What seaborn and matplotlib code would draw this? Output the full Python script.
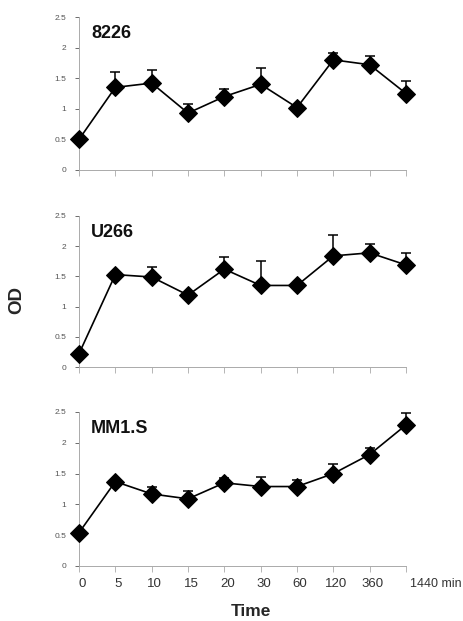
import numpy as np
import pandas as pd
import matplotlib
matplotlib.use("Agg")
import matplotlib.pyplot as plt
import seaborn as sns

# time points (categorical, evenly spaced on the axis)
times = ["0", "5", "10", "15", "20", "30", "60", "120", "360", "1440 min"]

cell_lines = ["8226", "U266", "MM1.S"]

# mean OD per time point
od_8226 = [0.50, 1.35, 1.42, 0.93, 1.20, 1.40, 1.02, 1.80, 1.72, 1.25]
od_u266 = [0.22, 1.53, 1.49, 1.19, 1.62, 1.35, 1.35, 1.84, 1.89, 1.69]
od_mm1s = [0.54, 1.37, 1.17, 1.09, 1.35, 1.29, 1.29, 1.50, 1.81, 2.29]

# upper error (SD) above the mean
err_8226 = [0.00, 0.25, 0.21, 0.15, 0.12, 0.27, 0.00, 0.11, 0.15, 0.20]
err_u266 = [0.00, 0.00, 0.16, 0.00, 0.20, 0.40, 0.00, 0.35, 0.14, 0.19]
err_mm1s = [0.00, 0.00, 0.12, 0.13, 0.08, 0.15, 0.10, 0.16, 0.11, 0.20]

sns.set_theme(style="white")
plt.rcParams["font.family"] = ["Liberation Sans", "DejaVu Sans"]

fig = plt.figure(figsize=(4.63, 6.21), dpi=100)

left = 79 / 463
width = (406 - 79) / 463
boxes = [(170, 17), (367, 216), (566, 412)]

series = [(od_8226, err_8226), (od_u266, err_u266), (od_mm1s, err_mm1s)]

for i, (name, (vals, errs)) in enumerate(zip(cell_lines, series)):
    bot_px, top_px = boxes[i]
    ax = fig.add_axes([left, 1 - bot_px / 621, width, (bot_px - top_px) / 621])
    df = pd.DataFrame({"pos": np.arange(len(times)), "od": vals, "err": errs})

    ax.errorbar(df["pos"], df["od"], yerr=[np.zeros(len(df)), df["err"]],
                fmt="none", ecolor="black", elinewidth=1.1, capsize=3.5,
                capthick=1.1, zorder=2)
    sns.lineplot(data=df, x="pos", y="od", ax=ax, color="black", lw=1.2,
                 marker="D", markersize=9.5, markeredgecolor="black",
                 markerfacecolor="black", zorder=3)

    ax.set_xlim(0, 9)
    ax.set_ylim(0, 2.5)
    ax.set_yticks([0, 0.5, 1, 1.5, 2, 2.5])
    ax.set_yticklabels(["0", "0.5", "1", "1.5", "2", "2.5"])
    ax.set_xticks(np.arange(len(times)))
    ax.set_xticklabels([])
    ax.set_xlabel("")
    ax.set_ylabel("")
    ax.tick_params(axis="y", labelsize=6, colors="#555555", length=3,
                   width=0.6, direction="out", left=True, pad=6)
    ax.tick_params(axis="x", length=4, width=0.6, direction="out",
                   bottom=True, color="#aaaaaa")
    for s in ["top", "right"]:
        ax.spines[s].set_visible(False)
    for s in ["left", "bottom"]:
        ax.spines[s].set_color("#aaaaaa")
        ax.spines[s].set_linewidth(0.7)
    for art in ax.lines + ax.collections:
        art.set_clip_on(False)
    ax.text(0.037, 0.95, name, transform=ax.transAxes, fontsize=13,
            fontweight="bold", va="top", ha="left", color="#111111")

    if i == 2:
        # x tick labels drawn as text so "1440 min" can sit right of its tick
        for p, lab in enumerate(times):
            if lab.endswith("min"):
                ax.text(p + 0.12, -0.115, lab, transform=ax.get_xaxis_transform(),
                        fontsize=9, color="#333333", ha="left", va="center")
            else:
                ax.text(p + 0.08, -0.115, lab, transform=ax.get_xaxis_transform(),
                        fontsize=9.5, color="#333333", ha="center", va="center")

fig.text(17 / 463, 1 - 300 / 621, "OD", rotation=90, fontsize=13.5,
         fontweight="bold", ha="center", va="center")
fig.text(251 / 463, 1 - 611 / 621, "Time", fontsize=12.5,
         fontweight="bold", ha="center", va="center")

fig.savefig("out.png", dpi=100)
